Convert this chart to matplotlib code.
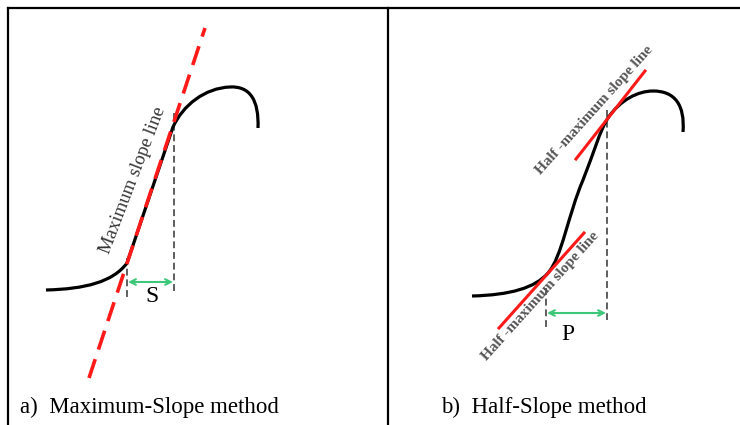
import numpy as np
import matplotlib.pyplot as plt
from matplotlib.path import Path
from matplotlib.patches import PathPatch

# curve of panel a as cubic bezier vertices (pixel coordinates)
curve_a = [(46, 290),
           (85, 289), (113, 282), (127, 263),
           (139, 227), (163, 157), (173, 127),
           (183, 105), (205, 88), (230, 87),
           (250, 86), (259, 100), (258, 128)]
# maximum slope line of panel a
slope_a_x = [89, 205]
slope_a_y = [378, 28]

# curve of panel b
curve_b = [(472, 296),
           (510, 295), (535, 288), (548, 273),
           (562, 257), (568, 215), (583, 180),
           (593, 155), (600, 130), (608, 118),
           (620, 100), (638, 91), (653, 91),
           (675, 91), (685, 105), (683, 132)]
# half-maximum slope lines of panel b
upper_x = [576, 645]
upper_y = [159, 71]
lower_x = [499, 584]
lower_y = [328, 233]

# span markers: (x, y top, y bottom)
vlines_a = [(127, 258, 297), (174, 113, 292)]
vlines_b = [(546, 288, 330), (607, 110, 320)]
span_a = (128, 173, 282)
span_b = (547, 606, 313)

fig = plt.figure(figsize=(7.4, 4.25), dpi=100)
ax = fig.add_axes([0, 0, 1, 1])
ax.set_xlim(0, 740)
ax.set_ylim(425, 0)
ax.axis('off')

serif = 'Liberation Serif'


def bezier(points):
    codes = [Path.MOVETO] + [Path.CURVE4] * (len(points) - 1)
    return PathPatch(Path(points, codes), facecolor='none', edgecolor='black',
                     lw=2.3, capstyle='butt', joinstyle='round', zorder=3)


# frame
ax.plot([8, 8], [8, 425], color='black', lw=1.6)
ax.plot([8, 740], [8, 8], color='black', lw=1.6)
ax.plot([388, 388], [8, 425], color='black', lw=1.6)

# panel a
ax.plot(slope_a_x, slope_a_y, color='#ff1a1a', lw=2.6, dashes=(5.5, 2.8), zorder=4)
ax.add_patch(bezier(curve_a))
for x, y0, y1 in vlines_a:
    ax.plot([x, x], [y0, y1], color='#333333', lw=1.1, dashes=(4.5, 2.5))
ax.annotate('', xy=(span_a[0], span_a[2]), xytext=(span_a[1], span_a[2]),
            arrowprops=dict(arrowstyle='<->', color='#3cc878', lw=1.5, shrinkA=0, shrinkB=0))
ax.text(152, 296, 'S', fontsize=17, family=serif, ha='center', va='center')
ax.text(133, 180, 'Maximum slope line', fontsize=13.5, family=serif, color='#333333',
        rotation=69, ha='center', va='center', rotation_mode='anchor')
ax.text(20, 407, 'a)  Maximum-Slope method', fontsize=16.5, family=serif, ha='left', va='center')

# panel b
ax.plot(upper_x, upper_y, color='#ff1a1a', lw=2.2, zorder=4)
ax.plot(lower_x, lower_y, color='#ff1a1a', lw=2.2, zorder=4)
ax.add_patch(bezier(curve_b))
for x, y0, y1 in vlines_b:
    ax.plot([x, x], [y0, y1], color='#333333', lw=1.1, dashes=(4.5, 2.5))
ax.annotate('', xy=(span_b[0], span_b[2]), xytext=(span_b[1], span_b[2]),
            arrowprops=dict(arrowstyle='<->', color='#3cc878', lw=1.5, shrinkA=0, shrinkB=0))
ax.text(568, 335, 'P', fontsize=17, family=serif, ha='center', va='center')
ax.text(594, 110, 'Half -maximum slope line', fontsize=11, family=serif, color='#555555',
        fontweight='bold', rotation=48, ha='center', va='center', rotation_mode='anchor')
ax.text(540, 296, 'Half -maximum slope line', fontsize=11, family=serif, color='#555555',
        fontweight='bold', rotation=48, ha='center', va='center', rotation_mode='anchor')
ax.text(441, 407, 'b)  Half-Slope method', fontsize=16.5, family=serif, ha='left', va='center')

fig.savefig('out.png', dpi=100)
